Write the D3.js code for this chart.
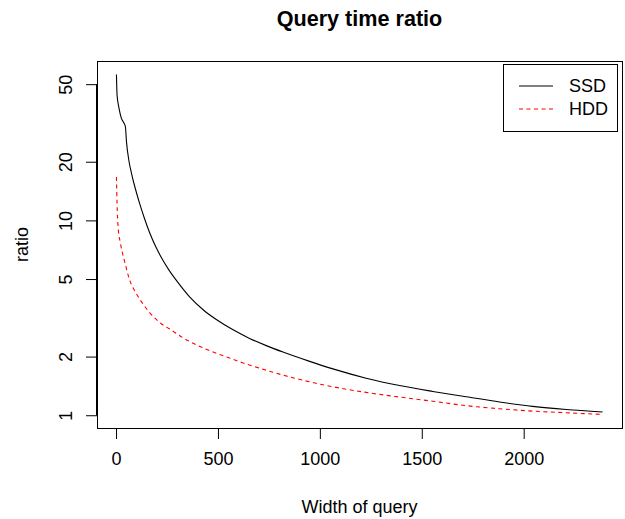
<!DOCTYPE html>
<html>
<head>
<meta charset="utf-8">
<script src="https://cdn.jsdelivr.net/npm/d3@7"></script>
<style>
html,body{margin:0;padding:0;background:#fff;}
svg{display:block;}
text{font-family:"Liberation Sans",Arial,Helvetica,sans-serif;fill:#000;}
</style>
</head>
<body>
<svg id="chart" width="625" height="519"></svg>
<script>
// ---- data ----
const ssdWidth = [2, 5, 15, 26, 40, 46, 51, 64, 75, 87, 100, 116, 140, 165, 198, 230, 263, 296, 361, 430, 492, 570, 655, 740, 819, 950, 1064, 1227, 1391, 1554, 1718, 1881, 2044, 2208, 2387];
const ssdRatio = [56, 44, 37.5, 33.5, 31.4, 30.2, 25.5, 20, 17.6, 15.6, 13.9, 12.2, 10.2, 8.64, 7.21, 6.24, 5.49, 4.92, 4.05, 3.46, 3.10, 2.76, 2.48, 2.27, 2.11, 1.89, 1.73, 1.55, 1.42, 1.325, 1.245, 1.17, 1.11, 1.07, 1.04];
const hddWidth = [2, 5, 10, 22, 43, 67, 100, 141, 165, 222, 280, 328, 386, 440, 492, 549, 620, 700, 780, 876, 1064, 1227, 1391, 1554, 1718, 1881, 2044, 2208, 2387];
const hddRatio = [16.7, 12.2, 9.3, 7.6, 6.1, 4.94, 4.2, 3.62, 3.36, 2.95, 2.7, 2.5, 2.32, 2.19, 2.08, 1.98, 1.86, 1.75, 1.65, 1.55, 1.40, 1.31, 1.24, 1.18, 1.12, 1.08, 1.05, 1.03, 1.01];
const xTicks = [0, 500, 1000, 1500, 2000];
const yTicks = [1, 2, 5, 10, 20, 50];
const seriesNames = ["SSD", "HDD"];
const seriesColors = ["#000000", "#ff0000"];

const title = "Query time ratio";
const xLabel = "Width of query";
const yLabel = "ratio";

// ---- layout ----
const box = {left: 97, right: 622, top: 61, bottom: 428};
const svg = d3.select("#chart");

const allX = ssdWidth.concat(hddWidth);
const allY = ssdRatio.concat(hddRatio);
const xmin = d3.min(allX), xmax = d3.max(allX);
const xr = xmax - xmin;
const x = d3.scaleLinear()
  .domain([xmin - 0.04 * xr, xmax + 0.04 * xr])
  .range([box.left, box.right]);
const lymin = Math.log10(d3.min(allY)), lymax = Math.log10(d3.max(allY));
const lr = lymax - lymin;
const y = d3.scaleLog()
  .domain([Math.pow(10, lymin - 0.04 * lr), Math.pow(10, lymax + 0.04 * lr)])
  .range([box.bottom, box.top]);

const fs = 18;

// title
svg.append("text")
  .attr("x", (box.left + box.right) / 2)
  .attr("y", 26)
  .attr("text-anchor", "middle")
  .style("font-size", "21.6px")
  .style("font-weight", "bold")
  .text(title);

// x axis
const xAxis = d3.axisBottom(x).tickValues(xTicks).tickSize(11).tickPadding(13)
  .tickFormat(d3.format("d"));
const gx = svg.append("g").attr("transform", `translate(0,${box.bottom})`).call(xAxis);
gx.select(".domain").attr("d", `M${x(xTicks[0])},0.5H${x(xTicks[xTicks.length-1])}`)
  .attr("stroke", "#000");
gx.selectAll(".tick line").attr("stroke", "#000");
gx.selectAll("text").style("font-size", fs + "px").style("font-family", "Liberation Sans, Arial, sans-serif")
  .attr("fill", "#000");

// y axis
const yAxis = d3.axisLeft(y).tickValues(yTicks).tickSize(11).tickFormat(d3.format("d"));
const gy = svg.append("g").attr("transform", `translate(${box.left},0)`).call(yAxis);
gy.select(".domain").attr("d", `M-0.5,${y(yTicks[yTicks.length-1])}V${y(yTicks[0])}`)
  .attr("stroke", "#000");
gy.selectAll(".tick line").attr("stroke", "#000");
gy.selectAll(".tick text").remove();
gy.selectAll(".tick").append("text")
  .attr("transform", "translate(-31,0) rotate(-90)")
  .attr("text-anchor", "middle")
  .attr("dy", "0.35em")
  .style("font-size", fs + "px")
  .text(d => d3.format("d")(d));

// plot box
svg.append("rect")
  .attr("x", box.left + 0.5).attr("y", box.top + 0.5)
  .attr("width", box.right - box.left).attr("height", box.bottom - box.top)
  .attr("fill", "none").attr("stroke", "#000").attr("stroke-width", 1);

// axis titles
svg.append("text")
  .attr("x", (box.left + box.right) / 2)
  .attr("y", 513)
  .attr("text-anchor", "middle")
  .style("font-size", fs + "px")
  .text(xLabel);
svg.append("text")
  .attr("transform", `translate(28,${(box.top + box.bottom) / 2}) rotate(-90)`)
  .attr("text-anchor", "middle")
  .style("font-size", fs + "px")
  .text(yLabel);

// lines
const line = d3.line().x(d => x(d[0])).y(d => y(d[1])).curve(d3.curveMonotoneX);
const ssd = ssdWidth.map((w, i) => [w, ssdRatio[i]]);
const hdd = hddWidth.map((w, i) => [w, hddRatio[i]]);
svg.append("path").datum(ssd).attr("d", line)
  .attr("fill", "none").attr("stroke", seriesColors[0]).attr("stroke-width", 1.1);
svg.append("path").datum(hdd).attr("d", line)
  .attr("fill", "none").attr("stroke", seriesColors[1]).attr("stroke-width", 1.1)
  .attr("stroke-dasharray", "4,3.5");

// legend
const lg = svg.append("g");
lg.append("rect").attr("x", 503.5).attr("y", 64.5).attr("width", 114).attr("height", 67)
  .attr("fill", "#fff").attr("stroke", "#000");
const legY = [86, 109];
seriesNames.forEach((n, i) => {
  lg.append("line").attr("x1", 519).attr("x2", 553).attr("y1", legY[i]).attr("y2", legY[i])
    .attr("stroke", seriesColors[i]).attr("stroke-width", 1.1)
    .attr("stroke-dasharray", i === 1 ? "4,3.5" : null);
  lg.append("text").attr("x", 569).attr("y", legY[i]).attr("dy", "0.35em")
    .style("font-size", fs + "px").text(n);
});
</script>
</body>
</html>
